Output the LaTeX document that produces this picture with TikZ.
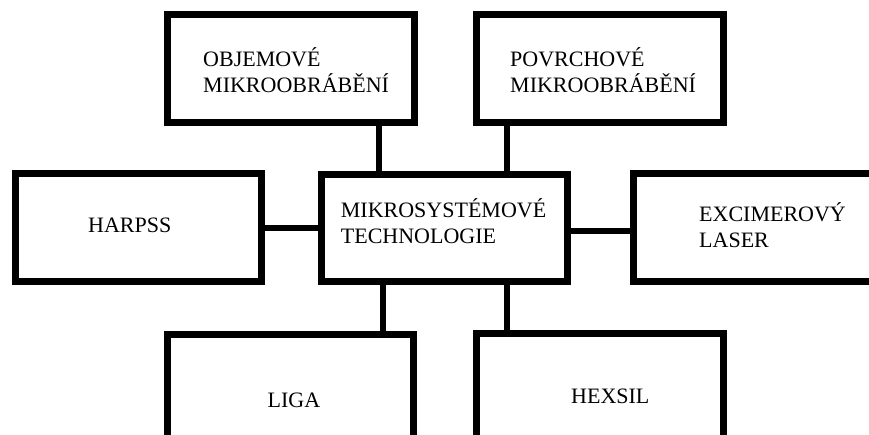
\documentclass[tikz,border=0pt]{standalone}
\usepackage{fontspec}
\setmainfont{Liberation Serif}
\begin{document}
\begin{tikzpicture}[x=1pt,y=-1pt,
  box/.style={draw=black, line width=6.5pt, fill=white, rectangle, inner sep=0pt},
  link/.style={draw=black, line width=6.5pt},
  lbl/.style={anchor=base west, inner sep=0pt, align=left, text=black,
    font=\fontsize{22}{26}\selectfont}]
\clip (0,0) rectangle (869,434);
\fill[white] (0,0) rectangle (869,434);

% boxes
\node[box, minimum width=247.4pt, minimum height=108.4pt] (obj) at (291,68.5) {};
\node[box, minimum width=247.4pt, minimum height=108.4pt] (pov) at (600,68.5) {};
\node[box, minimum width=246.4pt, minimum height=108.4pt] (harpss) at (138.5,227.5) {};
\node[box, minimum width=246.4pt, minimum height=107.4pt] (tech) at (444.5,228) {};
\node[box, minimum width=246.7pt, minimum height=108.4pt] (exc) at (756.7,227.5) {};
\node[box, minimum width=246.4pt, minimum height=108.4pt] (liga) at (290.5,388.5) {};
\node[box, minimum width=247.4pt, minimum height=108.4pt] (hexsil) at (600,387.5) {};

% labels (base anchor = baseline of the last line)
\node[lbl] (tobj) at (203,92.7) {OBJEMOVÉ\\MIKROOBRÁBĚNÍ};
\node[lbl] (tpov) at (510,92.7) {POVRCHOVÉ\\MIKROOBRÁBĚNÍ};
\node[lbl] (tharpss) at (88,232.7) {HARPSS};
\node[lbl] (ttech) at (340.7,243.3) {MIKROSYSTÉMOVÉ\\TECHNOLOGIE};
\node[lbl] (texc) at (699,247.3) {EXCIMEROVÝ\\LASER};
\node[lbl] (tliga) at (267.5,407.4) {LIGA};
\node[lbl] (thexsil) at (571,403.6) {HEXSIL};

% connectors
\draw[link] (obj.south -| 379,0) -- (tech.north -| 379,0);
\draw[link] (pov.south -| 507,0) -- (tech.north -| 507,0);
\draw[link] (harpss.east |- 0,228) -- (tech.west |- 0,228);
\draw[link] (tech.east |- 0,231) -- (exc.west |- 0,231);
\draw[link] (tech.south -| 383,0) -- (liga.north -| 383,0);
\draw[link] (tech.south -| 507,0) -- (hexsil.north -| 507,0);
\end{tikzpicture}
\end{document}
